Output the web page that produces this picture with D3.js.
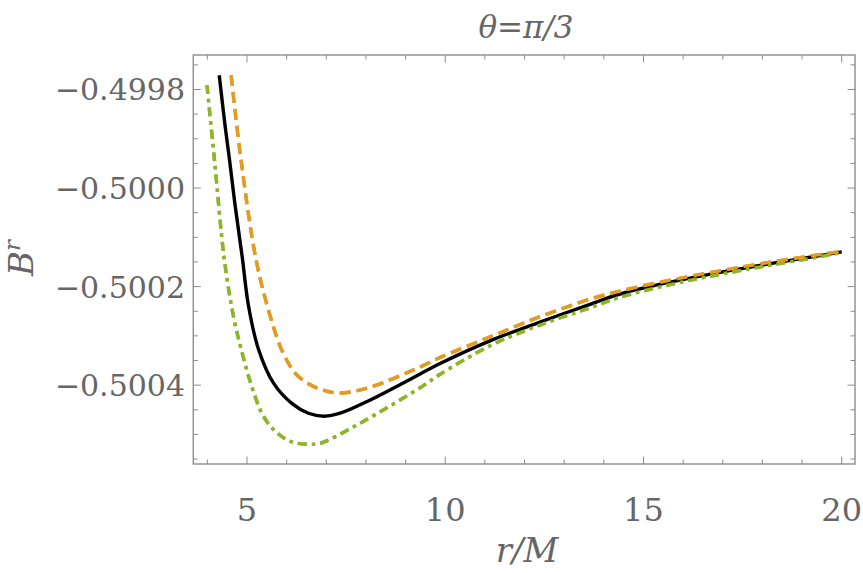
<!DOCTYPE html>
<html>
<head>
<meta charset="utf-8">
<script src="https://cdn.jsdelivr.net/npm/d3@7"></script>
<style>
  body { margin: 0; background: #fff; }
</style>
</head>
<body>
<script>
let width = 863;
let height = 573;

// values, r/M and B^r
let rBlack = [4.30, 4.45, 4.56, 4.70, 4.88, 5.04, 5.29, 5.67, 6.13, 6.55, 6.95, 7.35, 8.11, 9.00, 9.87, 11.13, 12.39, 13.65, 14.41, 15.67, 16.93, 18.19, 19.45, 20.00];
let bBlack = [-0.499771, -0.499875, -0.499943, -0.500035, -0.500140, -0.500240, -0.500327, -0.500396, -0.500437, -0.500457, -0.500463, -0.500457, -0.500430, -0.500393, -0.500356, -0.500310, -0.500272, -0.500236, -0.500215, -0.500191, -0.500171, -0.5001535, -0.500137, -0.5001295];

let rOrange = [4.60, 4.85, 5.23, 5.59, 5.88, 6.22, 6.55, 6.92, 7.35, 8.11, 9.37, 9.87, 11.13, 12.39, 13.65, 14.41, 15.67, 16.93, 18.19, 19.45, 20.00];
let bOrange = [-0.499771, -0.499943, -0.500146, -0.500261, -0.500329, -0.500376, -0.500397, -0.500410, -0.500416, -0.500404, -0.500363, -0.500344, -0.500302, -0.500261, -0.5002255, -0.500209, -0.500187, -0.500168, -0.5001505, -0.500135, -0.5001285];

let rGreen = [3.99, 4.18, 4.43, 4.66, 4.88, 5.13, 5.42, 5.76, 6.13, 6.55, 6.85, 7.68, 8.53, 9.37, 9.87, 11.13, 12.39, 13.65, 14.41, 15.67, 16.93, 18.19, 19.45, 20.00];
let bGreen = [-0.499791, -0.499943, -0.500146, -0.500261, -0.500335, -0.500405, -0.500464, -0.500497, -0.500515, -0.500520, -0.500518, -0.500485, -0.500446, -0.500405, -0.500378, -0.500320, -0.500278, -0.500243, -0.5002215, -0.500196, -0.500175, -0.5001565, -0.500139, -0.5001305];

let xMajor = [5, 10, 15, 20];
let xMinor = [4, 6, 7, 8, 9, 11, 12, 13, 14, 16, 17, 18, 19];
let yMajor = [-0.4998, -0.5000, -0.5002, -0.5004];
let yMinor = [-0.49975, -0.49985, -0.4999, -0.49995, -0.50005, -0.5001, -0.50015, -0.50025, -0.5003, -0.50035, -0.50045, -0.5005, -0.50055];

let margin = { left: 193.3, right: 855, top: 55, bottom: 464 };
let serif = "DejaVu Serif";
let textColor = "#666";

let svg = d3
  .select("body")
  .append("svg")
  .attr("width", width)
  .attr("height", height);

let x = d3.scaleLinear().domain([3.646, 20.335]).range([margin.left, margin.right]);
let y = d3.scaleLinear().domain([-0.500560, -0.499730]).range([margin.bottom, margin.top]);

let frameColor = "#8c8c8c";

// ticks on all four sides, pointing inward
let tickGroup = svg.append("g").attr("stroke", frameColor).attr("stroke-width", 1);

let drawXTicks = (vals, len) => {
  vals.forEach((v) => {
    tickGroup.append("line")
      .attr("x1", x(v)).attr("x2", x(v))
      .attr("y1", margin.bottom).attr("y2", margin.bottom - len);
    tickGroup.append("line")
      .attr("x1", x(v)).attr("x2", x(v))
      .attr("y1", margin.top).attr("y2", margin.top + len);
  });
};
let drawYTicks = (vals, len) => {
  vals.forEach((v) => {
    tickGroup.append("line")
      .attr("x1", margin.left).attr("x2", margin.left + len)
      .attr("y1", y(v)).attr("y2", y(v));
    tickGroup.append("line")
      .attr("x1", margin.right).attr("x2", margin.right - len)
      .attr("y1", y(v)).attr("y2", y(v));
  });
};
drawXTicks(xMajor, 7.5);
drawXTicks(xMinor, 4.5);
drawYTicks(yMajor, 7.5);
drawYTicks(yMinor, 4.5);

svg.append("rect")
  .attr("x", margin.left)
  .attr("y", margin.top)
  .attr("width", margin.right - margin.left)
  .attr("height", margin.bottom - margin.top)
  .attr("fill", "none")
  .attr("stroke", frameColor)
  .attr("stroke-width", 1.4);

// tick labels
svg.append("g")
  .selectAll("text")
  .data(xMajor)
  .enter()
  .append("text")
  .attr("x", (d) => x(d))
  .attr("y", 521)
  .attr("text-anchor", "middle")
  .attr("font-family", serif)
  .attr("font-size", 32)
  .attr("fill", textColor)
  .text((d) => d);

let fmt = d3.format(".4f");
svg.append("g")
  .selectAll("text")
  .data(yMajor)
  .enter()
  .append("text")
  .attr("x", 185)
  .attr("y", (d) => y(d) + 11)
  .attr("text-anchor", "end")
  .attr("font-family", serif)
  .attr("font-size", 30)
  .attr("fill", textColor)
  .text((d) => "\u2212" + fmt(Math.abs(d)));

// curves
let line = d3.line()
  .x((d) => x(d[0]))
  .y((d) => y(d[1]))
  .curve(d3.curveCatmullRom.alpha(0.5));

let series = [
  { r: rGreen, b: bGreen, color: "#8db52a", dash: "9,5,3.5,5" },
  { r: rOrange, b: bOrange, color: "#e49b22", dash: "11,6" },
  { r: rBlack, b: bBlack, color: "#000", dash: null },
];

let plot = svg.append("g");
series.forEach((s) => {
  plot.append("path")
    .datum(d3.zip(s.r, s.b))
    .attr("fill", "none")
    .attr("stroke", s.color)
    .attr("stroke-width", 3.4)
    .attr("stroke-dasharray", s.dash)
    .attr("d", line);
});
// dashed ones again on top so the overlap at large r looks mixed
series.slice(0, 2).forEach((s) => {
  plot.append("path")
    .datum(d3.zip(s.r, s.b))
    .attr("fill", "none")
    .attr("stroke", s.color)
    .attr("stroke-width", 3.4)
    .attr("stroke-dasharray", s.dash)
    .attr("d", line);
});

// title and axis labels
svg.append("text")
  .attr("x", 526)
  .attr("y", 38)
  .attr("text-anchor", "middle")
  .attr("font-family", serif)
  .attr("font-size", 31)
  .attr("font-style", "italic")
  .attr("fill", textColor)
  .text("\u03b8=\u03c0/3");

svg.append("text")
  .attr("x", 527)
  .attr("y", 562)
  .attr("text-anchor", "middle")
  .attr("font-family", serif)
  .attr("font-size", 34)
  .attr("font-style", "italic")
  .attr("fill", textColor)
  .text("r/M");

let yLabel = svg.append("text")
  .attr("transform", "translate(33,258) rotate(-90)")
  .attr("text-anchor", "middle")
  .attr("font-family", serif)
  .attr("font-size", 34)
  .attr("font-style", "italic")
  .attr("fill", textColor);
yLabel.append("tspan").text("B");
yLabel.append("tspan").attr("font-size", 23).attr("dy", -13).text("r");
</script>
</body>
</html>
